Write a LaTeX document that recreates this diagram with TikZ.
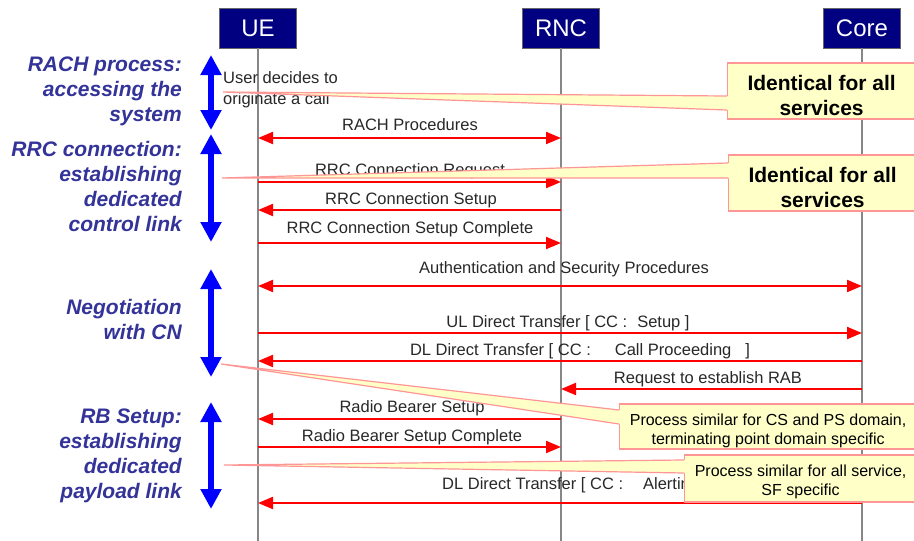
\documentclass[tikz,border=0pt]{standalone}
\usepackage{fontspec}
\setmainfont{Liberation Sans}
\usetikzlibrary{arrows.meta,calc}

\definecolor{hdrnavy}{RGB}{0,0,128}
\definecolor{lifegray}{RGB}{135,135,135}
\definecolor{msgred}{RGB}{255,0,0}
\definecolor{msgtext}{RGB}{40,40,40}
\definecolor{phaseblue}{RGB}{0,0,255}
\definecolor{phasetext}{RGB}{51,51,153}
\definecolor{notefill}{RGB}{255,255,200}
\definecolor{noteedge}{RGB}{255,150,150}

\tikzset{
  hdr/.style={fill=hdrnavy, draw=black!60, line width=0.8pt, text=white,
    minimum width=77pt, minimum height=40pt, inner sep=0pt,
    font=\fontsize{24}{28}\selectfont},
  lifeline/.style={draw=lifegray, line width=1.5pt},
  msgarrow/.style={draw=msgred, line width=2pt, -{Triangle[length=15pt,width=12pt]}},
  msgboth/.style={msgarrow, {Triangle[length=15pt,width=12pt]}-{Triangle[length=15pt,width=12pt]}},
  msglabel/.style={text=msgtext, font=\fontsize{16.5}{21}\selectfont, inner sep=0pt},
  phase/.style={draw=phaseblue, line width=6pt,
    {Triangle[length=20pt,width=20pt]}-{Triangle[length=20pt,width=20pt]}},
  phaselabel/.style={text=phasetext, font=\fontsize{21}{25}\selectfont\bfseries\itshape,
    align=right, anchor=east, inner sep=0pt},
  notebox/.style={fill=notefill, draw=noteedge, line width=1.2pt, anchor=west, inner sep=0pt},
  notebigtext/.style={align=center, inner sep=0pt, font=\fontsize{21}{25}\selectfont\bfseries},
  notesmalltext/.style={align=center, inner sep=0pt, font=\fontsize{16}{19}\selectfont},
  wedgeedge/.style={draw=noteedge, line width=1.2pt, line join=miter},
}

\begin{document}
\begin{tikzpicture}[x=1pt,y=-1pt]
\fill[white] (0,0) rectangle (914,541);
\useasboundingbox (0,0) rectangle (914,541);

% participants
\node[hdr] (ue) at (258,28) {UE};
\node[hdr] (rnc) at (561,28) {RNC};
\node[hdr] (core) at (862,28) {Core};

% lifelines
\coordinate (bottom) at (0,541);
\draw[lifeline] (ue.south) -- (ue.south |- bottom);
\draw[lifeline] (rnc.south) -- (rnc.south |- bottom);
\draw[lifeline] (core.south) -- (core.south |- bottom);

% phase brackets
\coordinate (ph1a) at (211,55);  \coordinate (ph1b) at (211,130);
\coordinate (ph2a) at (211,134); \coordinate (ph2b) at (211,242);
\coordinate (ph3a) at (211,269); \coordinate (ph3b) at (211,377);
\coordinate (ph4a) at (211,402); \coordinate (ph4b) at (211,509);
\draw[phase] (ph1a) -- (ph1b);
\draw[phase] (ph2a) -- (ph2b);
\draw[phase] (ph3a) -- (ph3b);
\draw[phase] (ph4a) -- (ph4b);

\node[phaselabel] (p1) at (182,91) {RACH process:\\accessing the\\system};
\node[phaselabel] (p2) at (182,186) {RRC connection:\\establishing\\dedicated\\control link};
\node[phaselabel] (p3) at (182,319) {Negotiation\\with CN};
\node[phaselabel] (p4) at (182,456) {RB Setup:\\establishing\\dedicated\\payload link};

% message rows
\coordinate (r1) at (0,138);
\coordinate (r2) at (0,182);
\coordinate (r3) at (0,210);
\coordinate (r4) at (0,243);
\coordinate (r5) at (0,286);
\coordinate (r6) at (0,333);
\coordinate (r7) at (0,361);
\coordinate (r8) at (0,389);
\coordinate (r9) at (0,419);
\coordinate (r10) at (0,447);
\coordinate (r11) at (0,503);

\draw[msgboth] (ue.south |- r1) -- (rnc.south |- r1);
\draw[msgarrow] (ue.south |- r2) -- (rnc.south |- r2);
\draw[msgarrow] (rnc.south |- r3) -- (ue.south |- r3);
\draw[msgarrow] (ue.south |- r4) -- (rnc.south |- r4);
\draw[msgboth] (ue.south |- r5) -- (core.south |- r5);
\draw[msgarrow] (ue.south |- r6) -- (core.south |- r6);
\draw[msgarrow] (core.south |- r7) -- (ue.south |- r7);
\draw[msgarrow] (core.south |- r8) -- (rnc.south |- r8);
\draw[msgarrow] (rnc.south |- r9) -- (ue.south |- r9);
\draw[msgarrow] (ue.south |- r10) -- (rnc.south |- r10);
\draw[msgarrow] (core.south |- r11) -- (ue.south |- r11);

\node[msglabel] (t1) at (410,125) {RACH Procedures};
\node[msglabel] (t2) at (410,171) {RRC Connection Request};
\node[msglabel] (t3) at (411,200) {RRC Connection Setup};
\node[msglabel] (t4) at (410,229) {RRC Connection Setup Complete};
\node[msglabel] (t5) at (564,269) {Authentication and Security Procedures};
\node[msglabel] (t6) at (568,323) {UL Direct Transfer [ CC :\hspace{10pt}Setup ]};
\node[msglabel] (t7) at (580,351) {DL Direct Transfer [ CC :\hspace{24pt}Call Proceeding\hspace{14pt}]};
\node[msglabel] (t8) at (708,379) {Request to establish RAB};
\node[msglabel] (t9) at (412,408) {Radio Bearer Setup};
\node[msglabel] (t10) at (412,437) {Radio Bearer Setup Complete};
\node[msglabel, anchor=west] (t11) at (442,485) {DL Direct Transfer [ CC :\hspace{20pt}Alerting ]};

\node[msglabel, align=left, anchor=west] (usr) at (223,90) {User decides to\\originate a call};

% callouts: box, pointer wedge, then text
\node[notebox, minimum width=190pt, minimum height=56pt] (n1) at (727,91) {};
\coordinate (w1) at (223,92);
\coordinate (w1a) at (727,96); \coordinate (w1b) at (727,110);
\fill[notefill] (w1) -- (w1a) -- ($(w1a)+(2,0)$) -- ($(w1b)+(2,0)$) -- (w1b) -- cycle;
\draw[wedgeedge] (w1a) -- (w1) -- (w1b);
\node[notebigtext] (n1t) at ($(n1)+(-1,4)$) {Identical for all\\services};

\node[notebox, minimum width=190pt, minimum height=56pt] (n2) at (728,183) {};
\coordinate (w2) at (222,178);
\coordinate (w2a) at (728,163); \coordinate (w2b) at (728,178);
\fill[notefill] (w2) -- (w2a) -- ($(w2a)+(2,0)$) -- ($(w2b)+(2,0)$) -- (w2b) -- cycle;
\draw[wedgeedge] (w2a) -- (w2) -- (w2b);
\node[notebigtext] (n2t) at ($(n2)+(-1,4)$) {Identical for all\\services};

\node[notebox, minimum width=297pt, minimum height=45pt] (n3) at (619,426.5) {};
\coordinate (w3) at (221,364);
\coordinate (w3a) at (619,410); \coordinate (w3b) at (619,424);
\fill[notefill] (w3) -- (w3a) -- ($(w3a)+(2,0)$) -- ($(w3b)+(2,0)$) -- (w3b) -- cycle;
\draw[wedgeedge] (w3a) -- (w3) -- (w3b);
\node[notesmalltext] (n3t) at ($(n3)+(0,4)$) {Process similar for CS and PS domain,\\terminating point domain specific};

\node[notebox, minimum width=232pt, minimum height=47pt] (n4) at (684,478.5) {};
\coordinate (w4) at (224,465);
\coordinate (w4a) at (684,460); \coordinate (w4b) at (684,473);
\fill[notefill] (w4) -- (w4a) -- ($(w4a)+(2,0)$) -- ($(w4b)+(2,0)$) -- (w4b) -- cycle;
\draw[wedgeedge] (w4a) -- (w4) -- (w4b);
\node[notesmalltext] (n4t) at ($(n4)+(0,3)$) {Process similar for all service,\\SF specific};
\end{tikzpicture}
\end{document}
